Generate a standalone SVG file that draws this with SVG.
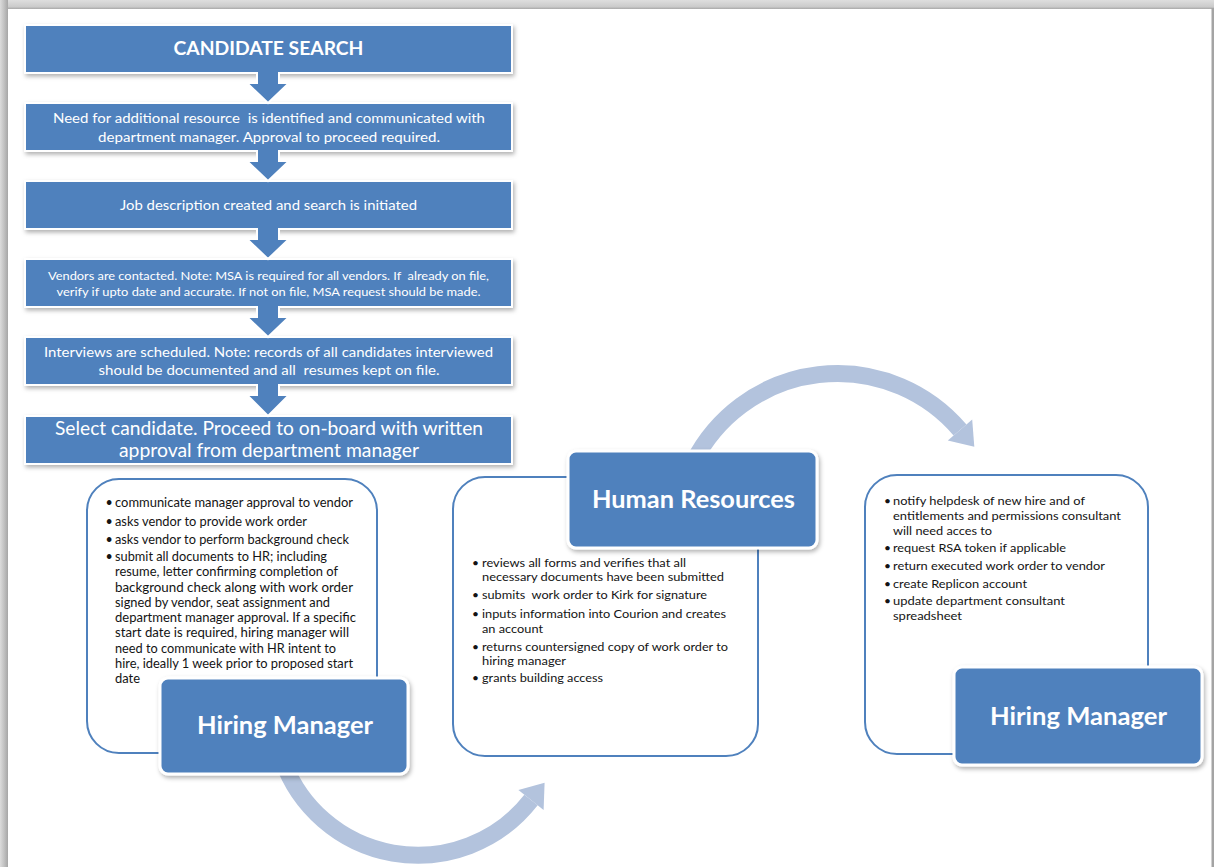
<svg xmlns="http://www.w3.org/2000/svg" width="1214" height="867" viewBox="0 0 1214 867">
<defs>
<style>
.flow{fill:#4F81BD;stroke:#FFFFFF;stroke-width:2;filter:url(#sh)}
.lbl{fill:#4F81BD;stroke:#FFFFFF;stroke-width:3;filter:url(#sh)}
.tbox{fill:#FFFFFF;stroke:#4F81BD;stroke-width:2}
.wt{fill:#FFFFFF;font-family:Lato,"Liberation Sans",sans-serif;text-anchor:middle;white-space:pre}
.bt text{white-space:pre}
.bt{fill:#141414;font-family:Lato,"Liberation Sans",sans-serif}
.lt{fill:#FFFFFF;font-family:Lato,"Liberation Sans",sans-serif;font-weight:bold;font-size:24px;text-anchor:middle}
.dn{fill:#4F81BD}
.dno{fill:none;stroke:#FFFFFF;stroke-width:2;stroke-linejoin:miter}
.curve{fill:none;stroke:#B3C3DD;stroke-width:17}
.head{fill:#B3C3DD}
</style>
<filter id="sh" x="-10%" y="-20%" width="125%" height="150%">
<feDropShadow dx="1.5" dy="2.5" stdDeviation="2" flood-color="#000" flood-opacity="0.3"/>
</filter>
<linearGradient id="gt" x1="0" y1="0" x2="0" y2="1">
<stop offset="0" stop-color="#dedede"/><stop offset="0.75" stop-color="#cbcbcb"/><stop offset="1" stop-color="#a8a8a8"/>
</linearGradient>
<linearGradient id="gl" x1="0" y1="0" x2="1" y2="0">
<stop offset="0" stop-color="#dcdcdc"/><stop offset="0.5" stop-color="#c2c2c2"/><stop offset="1" stop-color="#a6a6a6"/>
</linearGradient>
</defs>
<rect x="0" y="0" width="1214" height="867" fill="#FFFFFF"/>
<rect x="0" y="0" width="1214" height="9" fill="url(#gt)"/>
<rect x="0" y="0" width="8" height="867" fill="url(#gl)"/>
<rect x="1211.5" y="8" width="2.5" height="859" fill="#a4a4a4"/>

<g id="n1"><rect class="flow" x="25" y="25" width="487" height="48"/>
<text class="wt" x="268.5" y="55" font-size="19" font-weight="bold" textLength="190" lengthAdjust="spacingAndGlyphs">CANDIDATE SEARCH</text></g>
<g id="n2"><rect class="flow" x="25" y="103" width="487" height="48"/>
<text class="wt" x="269" y="123.3" font-size="14" textLength="432" lengthAdjust="spacingAndGlyphs">Need for additional resource  is identified and communicated with</text>
<text class="wt" x="269" y="141.7" font-size="14" textLength="342" lengthAdjust="spacingAndGlyphs">department manager. Approval to proceed required.</text></g>
<g id="n3"><rect class="flow" x="25" y="181" width="487" height="48"/>
<text class="wt" x="268.5" y="210" font-size="14" textLength="297" lengthAdjust="spacingAndGlyphs">Job description created and search is initiated</text></g>
<g id="n4"><rect class="flow" x="25" y="259" width="487" height="48"/>
<text class="wt" x="268.5" y="279.8" font-size="12" textLength="441" lengthAdjust="spacingAndGlyphs">Vendors are contacted. Note: MSA is required for all vendors. If  already on file,</text>
<text class="wt" x="268.5" y="295.8" font-size="12" textLength="424" lengthAdjust="spacingAndGlyphs">verify if upto date and accurate. If not on file, MSA request should be made.</text></g>
<g id="n5"><rect class="flow" x="25" y="337" width="487" height="48"/>
<text class="wt" x="268.5" y="356.6" font-size="14" textLength="449" lengthAdjust="spacingAndGlyphs">Interviews are scheduled. Note: records of all candidates interviewed</text>
<text class="wt" x="269" y="374.9" font-size="14" textLength="341" lengthAdjust="spacingAndGlyphs">should be documented and all  resumes kept on file.</text></g>
<g id="n6"><rect class="flow" x="25" y="416" width="487" height="48"/>
<text class="wt" x="269" y="434.6" font-size="18.5" textLength="428" lengthAdjust="spacingAndGlyphs">Select candidate. Proceed to on-board with written</text>
<text class="wt" x="269" y="457" font-size="18.5" textLength="300" lengthAdjust="spacingAndGlyphs">approval from department manager</text></g>

<g id="connectors">
<path class="dn" d="M257 67 H279 V83 H289 L268 103 L247 83 H257 Z"/>
<path class="dno" d="M257 72 V83 H247 L268 103 L289 83 H279 V72"/>
<path class="dn" d="M257 145 H279 V161 H289 L268 181 L247 161 H257 Z"/>
<path class="dno" d="M257 150 V161 H247 L268 181 L289 161 H279 V150"/>
<path class="dn" d="M257 223 H279 V239 H289 L268 259 L247 239 H257 Z"/>
<path class="dno" d="M257 228 V239 H247 L268 259 L289 239 H279 V228"/>
<path class="dn" d="M257 301 H279 V317 H289 L268 337 L247 317 H257 Z"/>
<path class="dno" d="M257 306 V317 H247 L268 337 L289 317 H279 V306"/>
<path class="dn" d="M257 379 H279 V395 H289 L268 416 L247 395 H257 Z"/>
<path class="dno" d="M257 384 V395 H247 L268 416 L289 395 H279 V384"/>
<path class="curve" d="M281.2 756 A143.6 143.6 0 0 0 531 800"/>
<polygon class="head" points="518.4,790.1 544.6,782.7 543.6,809.9"/>
<path class="curve" d="M693.7 461.6 A161.3 161.3 0 0 1 960 430"/>
<polygon class="head" points="947.8,440.4 972.2,419.6 974.3,446.7"/>
</g>

<g id="hm1">
<rect class="tbox" x="87" y="479" width="290" height="274" rx="32" ry="32"/>
<g class="bt" font-size="12.5">
<text x="105.5" y="507.3">•</text>
<text x="115" y="507.3" textLength="238" lengthAdjust="spacingAndGlyphs">communicate manager approval to vendor</text>
<text x="105.5" y="526.3">•</text>
<text x="115" y="526.3" textLength="192" lengthAdjust="spacingAndGlyphs">asks vendor to provide work order</text>
<text x="105.5" y="544">•</text>
<text x="115" y="544" textLength="234" lengthAdjust="spacingAndGlyphs">asks vendor to perform background check</text>
<text x="105.5" y="561.3">•</text>
<text x="115" y="561.3" textLength="212" lengthAdjust="spacingAndGlyphs">submit all documents to HR; including</text>
<text x="115" y="576.3" textLength="223" lengthAdjust="spacingAndGlyphs">resume, letter confirming completion of</text>
<text x="115" y="591.7" textLength="238" lengthAdjust="spacingAndGlyphs">background check along with work order</text>
<text x="115" y="607" textLength="215" lengthAdjust="spacingAndGlyphs">signed by vendor, seat assignment and</text>
<text x="115" y="622" textLength="241" lengthAdjust="spacingAndGlyphs">department manager approval. If a specific</text>
<text x="115" y="637.3" textLength="234" lengthAdjust="spacingAndGlyphs">start date is required, hiring manager will</text>
<text x="115" y="652.7" textLength="221" lengthAdjust="spacingAndGlyphs">need to communicate with HR intent to</text>
<text x="115" y="668" textLength="238" lengthAdjust="spacingAndGlyphs">hire, ideally 1 week prior to proposed start</text>
<text x="115" y="683" textLength="25" lengthAdjust="spacingAndGlyphs">date</text>
</g>
<rect class="lbl" x="160" y="678" width="248" height="96" rx="8" ry="8"/>
<text class="lt" x="285" y="733.5" textLength="176" lengthAdjust="spacingAndGlyphs">Hiring Manager</text>
</g>

<g id="hr">
<rect class="tbox" x="453" y="477" width="305" height="279" rx="32" ry="32"/>
<g class="bt" font-size="12">
<text x="472" y="567.3">•</text>
<text x="482" y="567.3" textLength="204" lengthAdjust="spacingAndGlyphs">reviews all forms and verifies that all</text>
<text x="482" y="581.3" textLength="242" lengthAdjust="spacingAndGlyphs">necessary documents have been submitted</text>
<text x="472" y="599">•</text>
<text x="482" y="599" textLength="225" lengthAdjust="spacingAndGlyphs">submits  work order to Kirk for signature</text>
<text x="472" y="618">•</text>
<text x="482" y="618" textLength="244" lengthAdjust="spacingAndGlyphs">inputs information into Courion and creates</text>
<text x="482" y="633" textLength="61" lengthAdjust="spacingAndGlyphs">an account</text>
<text x="472" y="650.7">•</text>
<text x="482" y="650.7" textLength="246" lengthAdjust="spacingAndGlyphs">returns countersigned copy of work order to</text>
<text x="482" y="665" textLength="84" lengthAdjust="spacingAndGlyphs">hiring manager</text>
<text x="472" y="682.3">•</text>
<text x="482" y="682.3" textLength="121" lengthAdjust="spacingAndGlyphs">grants building access</text>
</g>
<rect class="lbl" x="568" y="451" width="249" height="97" rx="8" ry="8"/>
<text class="lt" x="693.5" y="507.5" textLength="203" lengthAdjust="spacingAndGlyphs">Human Resources</text>
</g>

<g id="hm2">
<rect class="tbox" x="865" y="475" width="283" height="279" rx="32" ry="32"/>
<g class="bt" font-size="12">
<text x="884" y="504.7">•</text>
<text x="893" y="504.7" textLength="192" lengthAdjust="spacingAndGlyphs">notify helpdesk of new hire and of</text>
<text x="893" y="519.7" textLength="228" lengthAdjust="spacingAndGlyphs">entitlements and permissions consultant</text>
<text x="893" y="534.7" textLength="99" lengthAdjust="spacingAndGlyphs">will need acces to</text>
<text x="884" y="552.3">•</text>
<text x="893" y="552.3" textLength="173" lengthAdjust="spacingAndGlyphs">request RSA token if applicable</text>
<text x="884" y="570">•</text>
<text x="893" y="570" textLength="212" lengthAdjust="spacingAndGlyphs">return executed work order to vendor</text>
<text x="884" y="588">•</text>
<text x="893" y="588" textLength="134" lengthAdjust="spacingAndGlyphs">create Replicon account</text>
<text x="884" y="605.3">•</text>
<text x="893" y="605.3" textLength="172" lengthAdjust="spacingAndGlyphs">update department consultant</text>
<text x="893" y="620" textLength="69" lengthAdjust="spacingAndGlyphs">spreadsheet</text>
</g>
<rect class="lbl" x="954" y="667" width="248" height="98" rx="8" ry="8"/>
<text class="lt" x="1078.5" y="724.5" textLength="177" lengthAdjust="spacingAndGlyphs">Hiring Manager</text>
</g>
</svg>
